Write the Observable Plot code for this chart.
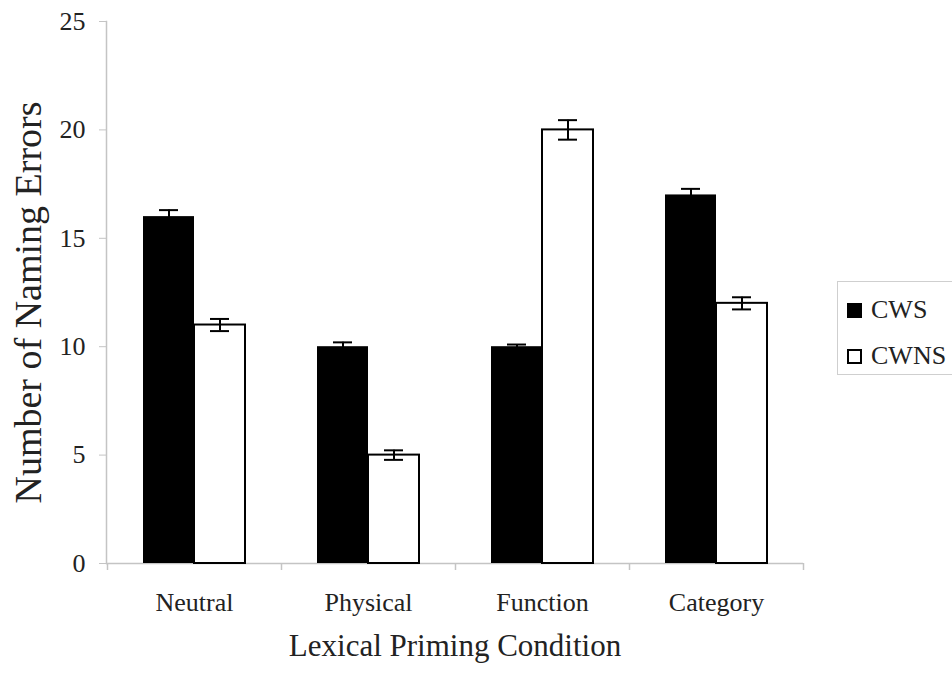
<!DOCTYPE html>
<html>
<head>
<meta charset="utf-8">
<script src="https://cdn.jsdelivr.net/npm/d3@7"></script>
<script src="https://cdn.jsdelivr.net/npm/@observablehq/plot@0.6"></script>
<style>
  html, body { margin: 0; padding: 0; background: #fff; overflow: hidden; }
  #wrap { position: relative; width: 952px; height: 680px; font-family: "Liberation Serif", "Times New Roman", serif; color: #222; }
  #legend { position: absolute; left: 837px; top: 281px; width: 130px; height: 94px; border: 1px solid #cfcfcf; background: #fff; box-sizing: border-box; }
  .item { position: absolute; left: 9px; display: flex; align-items: center; font-size: 26px; line-height: 26px; }
  .sw { width: 15px; height: 15px; box-sizing: border-box; border: 2px solid #000; margin-right: 9px; }
</style>
</head>
<body>
<div id="wrap"></div>
<script>
const categories = ["Neutral", "Physical", "Function", "Category"];
const seriesNames = ["CWS", "CWNS"];
const cwsValues = [16, 10, 10, 17];
const cwnsValues = [11, 5, 20, 12];
const cwsErrors = [0.3, 0.2, 0.1, 0.28];
const cwnsErrors = [0.28, 0.22, 0.45, 0.28];
const yTicks = [0, 5, 10, 15, 20, 25];
const xTitle = "Lexical Priming Condition";
const yTitle = "Number of Naming Errors";

const rows = categories.map((c, i) => ({
  category: c,
  cws: cwsValues[i], cwsErr: cwsErrors[i],
  cwns: cwnsValues[i], cwnsErr: cwnsErrors[i]
}));

const half = 51;      // half of the band width (pixels)
const capInset = 16;  // inset so caps are ~19px wide
const grid = "#c4c4c4";

const chart = Plot.plot({
  width: 952,
  height: 680,
  marginLeft: 106,
  marginRight: 149,
  marginTop: 21,
  marginBottom: 117,
  style: { fontFamily: "Liberation Serif, Times New Roman, serif", background: "white", color: "#222", overflow: "visible" },
  x: { domain: categories, paddingInner: 0.415, paddingOuter: 0.2075, axis: null },
  y: { domain: [0, 25], axis: null },
  marks: [
    Plot.ruleY([0], { stroke: grid, strokeWidth: 1.5 }),
    Plot.frame({ anchor: "left", stroke: grid, strokeWidth: 1.5 }),
    Plot.ruleX(categories, { x: d => d, y1: 0, y2: 0, insetBottom: -7, dx: -87, stroke: grid, strokeWidth: 1.5 }),
    Plot.ruleX(categories.slice(-1), { x: d => d, y1: 0, y2: 0, insetBottom: -7, dx: 87, stroke: grid, strokeWidth: 1.5 }),
    Plot.axisY({ ticks: yTicks, tickSize: 7, tickPadding: 14, fontSize: 26, stroke: grid, fill: "#222", label: null }),
    Plot.axisX({ tickSize: 0, tickPadding: 29, fontSize: 26, fill: "#222", label: null }),
    // CWS bars (left half of each band)
    Plot.barY(rows, { x: "category", y: "cws", fill: "#000", insetRight: half }),
    // CWNS bars (right half)
    Plot.barY(rows, { x: "category", y: "cwns", fill: "#fff", stroke: "#000", strokeWidth: 2, insetLeft: half }),
    // error bars CWS
    Plot.ruleX(rows, { x: "category", y1: d => d.cws - d.cwsErr, y2: d => d.cws + d.cwsErr, dx: -half / 2, stroke: "#000", strokeWidth: 2 }),
    Plot.tickY(rows, { x: "category", y: d => d.cws + d.cwsErr, insetLeft: capInset, insetRight: half + capInset, stroke: "#000", strokeWidth: 2 }),
    // error bars CWNS
    Plot.ruleX(rows, { x: "category", y1: d => d.cwns - d.cwnsErr, y2: d => d.cwns + d.cwnsErr, dx: half / 2, stroke: "#000", strokeWidth: 2 }),
    Plot.tickY(rows, { x: "category", y: d => d.cwns + d.cwnsErr, insetLeft: half + capInset, insetRight: capInset, stroke: "#000", strokeWidth: 2 }),
    Plot.tickY(rows, { x: "category", y: d => d.cwns - d.cwnsErr, insetLeft: half + capInset, insetRight: capInset, stroke: "#000", strokeWidth: 2 }),
    // titles
    Plot.text([xTitle], { text: d => d, frameAnchor: "bottom", dy: 92, fontSize: 31, fill: "#222" }),
    Plot.text([yTitle], { text: d => d, frameAnchor: "left", textAnchor: "middle", rotate: -90, dx: -78, dy: 10, fontSize: 38, fill: "#222" })
  ]
});

const wrap = document.getElementById("wrap");
wrap.appendChild(chart);

const legend = document.createElement("div");
legend.id = "legend";
const fills = ["#000", "#fff"];
const tops = [15, 61];
seriesNames.forEach((name, i) => {
  const item = document.createElement("div");
  item.className = "item";
  item.style.top = tops[i] + "px";
  const sw = document.createElement("span");
  sw.className = "sw";
  sw.style.background = fills[i];
  const label = document.createElement("span");
  label.textContent = name;
  item.appendChild(sw);
  item.appendChild(label);
  legend.appendChild(item);
});
wrap.appendChild(legend);
</script>
</body>
</html>
